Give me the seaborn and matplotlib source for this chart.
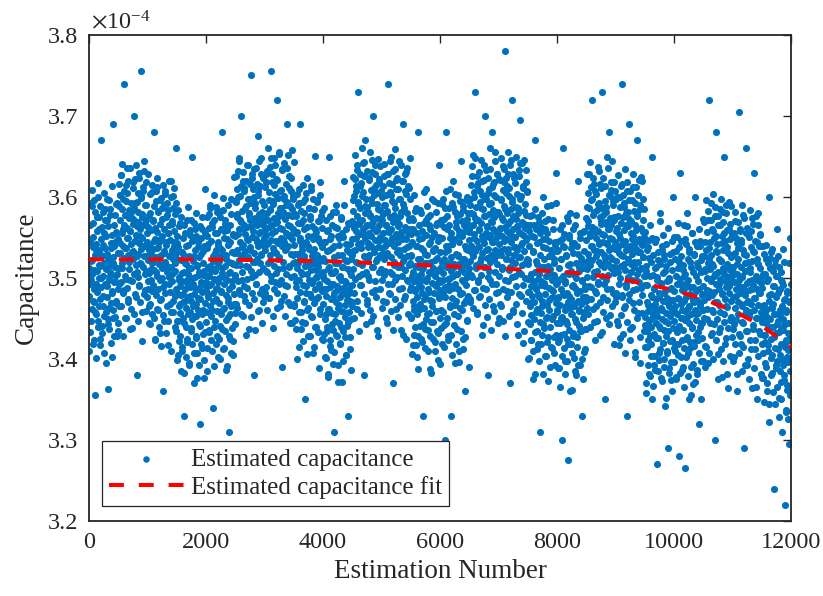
import numpy as np
import pandas as pd
import matplotlib
matplotlib.use("Agg")
import matplotlib.pyplot as plt
import seaborn as sns

# Estimated capacitance, per 1000 estimations,
# in units of 1e-7 F above 3.0e-4 F (e.g. 523 -> 3.523e-4)
cap_0k = [512, 478, 545, 433, 566, 497, 521, 589, 462, 505, 538, 419, 551, 487, 596, 470, 528, 355, 493, 542, 456, 575, 509, 483, 617, 447, 534, 500, 561, 425, 515, 474, 548, 670, 489, 527, 441, 582, 503, 466, 556, 519, 408, 537, 492, 571, 458, 511, 598, 476, 530, 449, 363, 564, 498, 522, 437, 585, 507, 469, 543, 516, 402, 553, 484, 526, 690, 461, 539, 495, 578, 452, 513, 471, 557, 504, 429, 592, 486, 531,
          548, 512, 589, 466, 603, 531, 572, 627, 495, 556, 518, 641, 540, 482, 597, 525, 565, 740, 503, 578, 451, 615, 537, 562, 488, 605, 529, 549, 470, 584, 511, 636, 558, 497, 542, 593, 523, 574, 438, 611, 533, 567, 505, 700, 586, 546, 480, 622, 516, 553, 594, 527, 380, 569, 501, 581, 543, 630, 491, 560, 519, 601, 755, 536, 575, 458, 550, 608, 514, 565, 527, 644, 485, 590, 539, 571, 509, 619, 545, 476]
cap_1k = [522, 487, 563, 445, 578, 506, 541, 604, 468, 530, 497, 615, 519, 455, 572, 536, 491, 589, 510, 680, 548, 423, 595, 526, 479, 557, 503, 612, 538, 461, 581, 517, 545, 432, 567, 498, 529, 599, 474, 552, 512, 586, 489, 360, 561, 533, 447, 608, 520, 493, 575, 541, 466, 592, 508, 555, 417, 584, 527, 501, 566, 483, 547, 620, 514, 458, 570, 535, 496, 601, 523, 471, 558, 544, 439, 579, 509, 660, 531, 486,
          482, 447, 523, 405, 538, 466, 501, 564, 428, 490, 457, 575, 479, 415, 532, 496, 451, 549, 470, 330, 508, 383, 555, 486, 439, 517, 463, 572, 498, 421, 541, 477, 505, 392, 527, 458, 489, 559, 434, 512, 472, 546, 449, 650, 521, 493, 407, 568, 480, 453, 535, 501, 426, 552, 468, 515, 377, 544, 487, 461, 526, 443, 507, 320, 474, 418, 530, 495, 456, 561, 483, 431, 518, 504, 399, 539, 469, 610, 491, 446]
cap_2k = [495, 458, 537, 414, 552, 477, 514, 579, 436, 503, 466, 590, 491, 423, 546, 509, 461, 563, 482, 340, 521, 391, 571, 499, 447, 531, 474, 588, 512, 429, 556, 488, 518, 402, 541, 469, 500, 575, 441, 527, 484, 561, 455, 680, 535, 506, 412, 584, 493, 463, 549, 515, 434, 567, 479, 528, 386, 559, 498, 470, 541, 452, 520, 310, 487, 425, 545, 508, 466, 597, 496, 438, 532, 517, 405, 554, 480, 625, 503, 457,
          552, 516, 594, 468, 610, 535, 575, 632, 496, 560, 522, 645, 545, 480, 601, 528, 569, 700, 507, 583, 453, 620, 541, 566, 490, 611, 533, 554, 472, 589, 515, 640, 563, 499, 547, 598, 526, 580, 437, 616, 538, 572, 509, 750, 592, 551, 482, 628, 520, 558, 600, 531, 380, 574, 504, 586, 548, 636, 493, 565, 523, 607, 675, 540, 579, 460, 555, 613, 518, 570, 530, 648, 487, 595, 544, 577, 512, 624, 549, 478]
cap_3k = [571, 534, 612, 489, 553, 628, 507, 580, 542, 661, 519, 596, 475, 563, 637, 528, 585, 755, 547, 502, 619, 566, 453, 591, 537, 648, 515, 574, 495, 604, 558, 531, 622, 482, 569, 720, 543, 599, 511, 653, 576, 526, 587, 465, 609, 550, 498, 633, 561, 390, 582, 520, 601, 545, 642, 491, 573, 535, 616, 556, 505, 594, 690, 539, 578, 470, 626, 552, 513, 589, 564, 445, 607, 530, 658, 548, 585, 518, 597, 561,
          503, 541, 466, 579, 520, 437, 556, 489, 604, 512, 475, 568, 530, 415, 592, 497, 549, 690, 524, 458, 583, 508, 539, 446, 571, 491, 615, 527, 470, 560, 515, 350, 598, 482, 544, 505, 623, 461, 552, 519, 428, 587, 498, 536, 480, 576, 510, 453, 609, 533, 494, 564, 407, 548, 522, 585, 469, 517, 651, 487, 557, 501, 440, 594, 529, 476, 570, 513, 389, 546, 493, 602, 521, 462, 577, 506, 538, 484, 562, 525]
cap_4k = [468, 503, 431, 545, 487, 402, 521, 455, 572, 478, 440, 533, 496, 382, 559, 462, 514, 650, 489, 423, 548, 474, 506, 411, 537, 457, 582, 492, 436, 526, 481, 310, 563, 447, 509, 470, 590, 428, 518, 485, 393, 552, 463, 501, 445, 541, 476, 418, 575, 498, 459, 529, 372, 513, 488, 551, 434, 482, 620, 452, 522, 467, 405, 560, 494, 441, 535, 479, 330, 511, 458, 567, 486, 427, 542, 471, 504, 449, 528, 491,
          548, 583, 511, 625, 567, 482, 601, 535, 652, 558, 520, 613, 576, 462, 639, 542, 594, 730, 569, 503, 628, 554, 586, 491, 617, 537, 660, 572, 516, 606, 561, 380, 643, 527, 589, 550, 670, 508, 598, 565, 473, 632, 543, 581, 525, 621, 556, 498, 655, 578, 539, 609, 447, 593, 568, 631, 514, 562, 700, 532, 602, 547, 485, 640, 574, 521, 615, 559, 436, 591, 538, 647, 566, 507, 622, 551, 584, 529, 608, 571]
cap_5k = [537, 572, 498, 614, 556, 471, 590, 524, 641, 547, 509, 602, 565, 451, 628, 531, 583, 740, 558, 492, 617, 543, 575, 480, 606, 526, 649, 561, 505, 595, 550, 370, 632, 516, 578, 539, 659, 497, 587, 554, 462, 621, 532, 570, 514, 610, 545, 487, 644, 567, 528, 598, 436, 582, 557, 620, 503, 551, 690, 521, 591, 536, 474, 629, 563, 510, 604, 548, 425, 580, 527, 636, 555, 496, 611, 540, 573, 518, 597, 560,
          489, 452, 528, 406, 545, 471, 507, 571, 430, 496, 460, 583, 484, 417, 539, 502, 455, 556, 476, 680, 514, 388, 565, 492, 441, 523, 468, 580, 505, 425, 549, 482, 511, 330, 534, 463, 497, 568, 437, 519, 478, 553, 449, 610, 528, 500, 410, 575, 486, 457, 542, 508, 428, 560, 473, 520, 383, 551, 494, 466, 533, 446, 512, 595, 481, 421, 537, 503, 459, 566, 490, 434, 525, 510, 399, 546, 475, 640, 498, 450]
cap_6k = [495, 532, 460, 571, 513, 418, 550, 481, 598, 506, 442, 563, 524, 300, 587, 489, 540, 680, 517, 451, 576, 499, 535, 429, 566, 485, 610, 520, 467, 555, 509, 330, 592, 475, 542, 502, 620, 456, 548, 514, 395, 581, 493, 530, 471, 569, 505, 437, 602, 527, 487, 558, 410, 545, 519, 579, 463, 511, 645, 482, 552, 497, 425, 589, 523, 469, 565, 508, 360, 539, 491, 596, 516, 447, 573, 501, 534, 478, 561, 512,
          557, 521, 598, 474, 615, 540, 580, 638, 501, 566, 527, 652, 550, 485, 606, 533, 574, 730, 512, 588, 458, 626, 546, 571, 495, 617, 538, 559, 477, 594, 520, 646, 568, 504, 552, 603, 531, 585, 442, 621, 543, 577, 514, 700, 597, 556, 487, 633, 525, 563, 605, 536, 380, 579, 509, 591, 553, 661, 498, 570, 528, 612, 680, 545, 584, 465, 560, 619, 523, 575, 535, 655, 492, 600, 549, 582, 517, 629, 554, 483]
cap_7k = [542, 579, 503, 621, 561, 468, 597, 529, 648, 552, 514, 609, 571, 447, 635, 536, 589, 780, 563, 497, 624, 548, 580, 484, 613, 531, 656, 567, 510, 601, 555, 370, 640, 522, 585, 545, 720, 501, 594, 560, 458, 628, 538, 576, 519, 617, 551, 490, 650, 573, 534, 604, 430, 587, 564, 633, 508, 557, 695, 526, 598, 541, 478, 642, 569, 516, 611, 553, 420, 583, 533, 646, 562, 500, 619, 547, 578, 524, 606, 566,
          483, 446, 522, 401, 540, 465, 501, 566, 423, 490, 454, 578, 478, 410, 533, 496, 449, 551, 470, 670, 508, 381, 560, 487, 435, 517, 462, 575, 499, 418, 544, 476, 505, 310, 528, 457, 491, 563, 430, 513, 472, 548, 443, 600, 523, 494, 404, 570, 480, 451, 537, 502, 421, 555, 467, 515, 373, 546, 488, 460, 527, 439, 506, 590, 475, 414, 531, 497, 453, 561, 484, 427, 519, 504, 392, 541, 469, 630, 493, 444]
cap_8k = [458, 494, 421, 534, 477, 389, 512, 444, 561, 467, 430, 523, 486, 300, 548, 452, 503, 660, 479, 413, 538, 461, 496, 398, 527, 447, 575, 482, 425, 516, 470, 275, 553, 436, 505, 463, 580, 418, 509, 474, 362, 543, 455, 491, 432, 531, 466, 401, 566, 488, 449, 519, 380, 500, 481, 540, 427, 472, 620, 441, 513, 459, 392, 550, 484, 434, 525, 468, 330, 498, 451, 557, 476, 409, 533, 456, 490, 437, 520, 471,
          547, 511, 588, 463, 605, 530, 570, 628, 490, 556, 516, 643, 540, 474, 596, 522, 563, 720, 501, 578, 446, 616, 535, 560, 484, 607, 527, 549, 466, 584, 509, 637, 558, 493, 542, 593, 520, 575, 430, 611, 532, 567, 503, 730, 587, 545, 476, 623, 514, 553, 595, 525, 350, 569, 498, 581, 543, 650, 487, 560, 517, 602, 680, 534, 574, 454, 550, 609, 512, 565, 524, 645, 481, 590, 538, 572, 506, 619, 544, 470]
cap_9k = [521, 558, 482, 600, 540, 447, 576, 508, 627, 531, 493, 588, 550, 426, 614, 515, 568, 740, 542, 476, 603, 527, 559, 463, 592, 510, 635, 546, 489, 580, 534, 330, 619, 501, 564, 524, 690, 480, 573, 539, 437, 607, 517, 555, 498, 596, 530, 469, 629, 552, 513, 583, 409, 566, 543, 612, 487, 536, 670, 505, 577, 520, 457, 621, 548, 495, 590, 532, 395, 562, 512, 625, 541, 479, 598, 526, 557, 503, 585, 545,
          452, 415, 491, 370, 509, 434, 470, 535, 392, 459, 423, 547, 447, 379, 502, 465, 418, 520, 439, 650, 477, 350, 529, 456, 404, 486, 431, 544, 468, 387, 513, 445, 474, 270, 497, 426, 460, 532, 399, 482, 441, 517, 412, 580, 492, 463, 373, 539, 449, 420, 506, 471, 390, 524, 436, 484, 342, 515, 457, 429, 496, 408, 475, 290, 444, 383, 500, 466, 422, 530, 453, 396, 488, 473, 361, 510, 438, 600, 462, 413]
cap_10k = [447, 484, 410, 524, 466, 378, 502, 433, 551, 456, 419, 512, 475, 280, 538, 441, 492, 630, 468, 402, 527, 450, 485, 387, 516, 436, 565, 471, 414, 505, 459, 265, 542, 425, 494, 452, 580, 407, 498, 463, 351, 532, 444, 480, 421, 520, 455, 390, 556, 477, 438, 508, 369, 489, 470, 529, 416, 461, 600, 430, 503, 448, 381, 540, 473, 423, 514, 457, 320, 487, 440, 546, 465, 398, 522, 445, 479, 426, 509, 460,
           490, 527, 451, 569, 509, 416, 545, 477, 596, 500, 462, 557, 519, 395, 583, 484, 537, 720, 511, 445, 572, 496, 528, 432, 561, 479, 604, 515, 458, 549, 503, 300, 588, 470, 533, 493, 680, 449, 542, 508, 406, 576, 486, 524, 467, 565, 499, 438, 598, 521, 482, 552, 378, 535, 512, 581, 456, 505, 650, 474, 546, 489, 426, 590, 517, 464, 559, 501, 364, 531, 481, 594, 510, 448, 567, 495, 526, 472, 554, 514]
cap_11k = [476, 513, 437, 555, 495, 402, 531, 463, 582, 486, 448, 543, 505, 381, 569, 470, 523, 705, 497, 431, 558, 482, 514, 418, 547, 465, 590, 501, 444, 535, 489, 290, 574, 456, 519, 479, 660, 435, 528, 494, 392, 562, 472, 510, 453, 551, 485, 424, 584, 507, 468, 538, 364, 521, 498, 567, 442, 491, 630, 460, 532, 475, 412, 576, 503, 450, 545, 487, 350, 517, 467, 580, 496, 434, 553, 481, 512, 458, 540, 500,
           452, 418, 488, 376, 505, 430, 467, 530, 395, 458, 421, 541, 444, 360, 496, 462, 410, 518, 437, 600, 472, 345, 525, 449, 401, 480, 425, 536, 463, 383, 509, 440, 468, 240, 490, 414, 455, 522, 389, 476, 432, 503, 398, 560, 482, 447, 352, 514, 433, 405, 487, 454, 372, 498, 419, 466, 310, 491, 436, 392, 473, 380, 442, 220, 415, 335, 460, 423, 368, 484, 402, 326, 445, 411, 295, 470, 385, 550, 427, 360]

# Second set of readings in the dense core (same units), between the ones above
fill_0k = [410, 547, 493, 593, 447, 522, 609, 472, 568, 424, 510, 581, 458, 534, 401, 558, 485, 600, 439, 516, 575, 466, 589, 417, 529, 500, 563, 432, 541, 478, 605, 453, 513, 585, 395, 552, 490, 572, 443, 525, 596, 463, 503, 578, 420, 537, 481, 613, 450, 519, 565, 428, 544, 496, 591, 469, 505, 555, 435, 531,
           444, 616, 493, 602, 543, 466, 627, 512, 585, 428, 561, 485, 608, 537, 451, 595, 499, 636, 549, 474, 620, 520, 574, 437, 558, 462, 582, 532, 496, 618, 523, 571, 455, 592, 546, 477, 640, 508, 564, 447, 605, 530, 490, 623, 552, 470, 599, 517, 579, 422, 612, 540, 480, 632, 505, 568, 459, 590, 527, 556]
fill_1k = [496, 628, 465, 534, 580, 443, 559, 511, 606, 484, 520, 570, 450, 546, 425, 562, 508, 608, 462, 537, 624, 487, 583, 439, 525, 596, 473, 549, 416, 573, 500, 615, 454, 531, 590, 481, 604, 432, 544, 515, 578, 447, 556, 493, 620, 468, 528, 600, 410, 567, 505, 587, 458, 540, 611, 478, 518, 593, 435, 552,
           399, 543, 447, 584, 497, 422, 568, 468, 522, 385, 506, 410, 530, 480, 444, 566, 471, 519, 403, 540, 494, 425, 588, 456, 512, 395, 553, 478, 438, 571, 500, 418, 547, 465, 527, 370, 560, 488, 428, 580, 453, 516, 407, 538, 475, 504, 392, 564, 441, 550, 491, 414, 575, 460, 533, 376, 509, 433, 556, 485]
fill_2k = [503, 575, 385, 542, 480, 562, 433, 515, 586, 453, 493, 568, 410, 527, 471, 603, 440, 509, 555, 418, 534, 486, 581, 459, 495, 545, 425, 521, 400, 537, 483, 583, 437, 512, 599, 462, 558, 414, 500, 571, 448, 524, 391, 548, 475, 590, 429, 506, 565, 456, 579, 407, 519, 490, 553, 422, 531, 468, 595, 443,
           504, 626, 531, 579, 463, 600, 554, 485, 648, 516, 572, 455, 613, 538, 498, 631, 560, 478, 607, 525, 587, 430, 620, 548, 488, 640, 513, 576, 467, 598, 535, 564, 452, 624, 501, 610, 551, 474, 635, 520, 593, 436, 569, 493, 616, 545, 459, 603, 507, 644, 557, 482, 628, 528, 582, 445, 566, 470, 590, 540]
fill_3k = [482, 559, 618, 509, 632, 460, 572, 543, 606, 475, 584, 521, 648, 496, 556, 628, 438, 595, 533, 615, 486, 568, 639, 506, 546, 621, 463, 580, 524, 656, 493, 562, 608, 471, 587, 539, 634, 512, 548, 598, 478, 574, 453, 590, 536, 636, 490, 565, 652, 515, 611, 467, 553, 624, 501, 577, 444, 601, 528, 643,
           468, 601, 530, 448, 577, 495, 557, 400, 590, 518, 458, 610, 483, 546, 437, 568, 505, 534, 422, 594, 471, 580, 521, 444, 605, 490, 563, 406, 539, 463, 586, 515, 429, 573, 477, 614, 527, 452, 598, 498, 552, 415, 536, 440, 560, 510, 474, 596, 501, 549, 433, 570, 524, 455, 618, 486, 542, 425, 583, 508]
fill_4k = [424, 499, 586, 449, 545, 401, 487, 558, 435, 511, 378, 535, 462, 577, 416, 493, 552, 443, 566, 394, 506, 477, 540, 409, 518, 455, 582, 430, 490, 562, 372, 529, 467, 549, 420, 502, 573, 440, 480, 555, 397, 514, 458, 590, 427, 496, 542, 405, 521, 473, 568, 446, 482, 532, 412, 508, 387, 524, 470, 570,
           465, 596, 533, 562, 450, 622, 499, 608, 549, 472, 633, 518, 591, 434, 567, 491, 614, 543, 457, 601, 505, 642, 555, 480, 626, 526, 580, 443, 564, 468, 588, 538, 502, 624, 529, 577, 461, 598, 552, 483, 646, 514, 570, 453, 611, 536, 496, 629, 558, 476, 605, 523, 585, 428, 618, 546, 486, 638, 511, 574]
fill_5k = [600, 463, 579, 531, 626, 504, 540, 590, 470, 566, 445, 582, 528, 628, 482, 557, 644, 507, 603, 459, 545, 616, 493, 569, 436, 593, 520, 635, 474, 551, 610, 501, 624, 452, 564, 535, 598, 467, 576, 513, 640, 488, 548, 620, 430, 587, 525, 607, 478, 560, 631, 498, 538, 613, 455, 572, 516, 648, 485, 554,
           527, 451, 574, 503, 417, 561, 465, 602, 515, 440, 586, 486, 540, 403, 524, 428, 548, 498, 462, 584, 489, 537, 421, 558, 512, 443, 606, 474, 530, 413, 571, 496, 456, 589, 518, 436, 565, 483, 545, 388, 578, 506, 446, 598, 471, 534, 425, 556, 493, 522, 410, 582, 459, 568, 509, 432, 593, 478, 551, 394]
fill_6k = [485, 567, 438, 520, 591, 458, 498, 573, 415, 532, 476, 608, 445, 514, 560, 423, 539, 491, 586, 464, 500, 550, 430, 526, 405, 542, 488, 588, 442, 517, 604, 467, 563, 419, 505, 576, 453, 529, 396, 553, 480, 595, 434, 511, 570, 461, 584, 412, 524, 495, 558, 427, 536, 473, 600, 448, 508, 580, 390, 547,
           566, 470, 590, 540, 504, 626, 531, 579, 463, 600, 554, 485, 648, 516, 572, 455, 613, 538, 498, 631, 560, 478, 607, 525, 587, 430, 620, 548, 488, 640, 513, 576, 467, 598, 535, 564, 452, 624, 501, 610, 551, 474, 635, 520, 593, 436, 569, 493, 616, 545, 459, 603, 507, 644, 557, 482, 628, 528, 582, 445]
fill_7k = [622, 450, 562, 533, 596, 465, 574, 511, 638, 486, 546, 618, 428, 585, 523, 605, 476, 558, 629, 496, 536, 611, 453, 570, 514, 646, 483, 552, 598, 461, 577, 529, 624, 502, 538, 588, 468, 564, 443, 580, 526, 626, 480, 555, 642, 505, 601, 457, 543, 614, 491, 567, 434, 591, 518, 633, 472, 549, 608, 499,
           517, 400, 558, 483, 443, 576, 505, 423, 552, 470, 532, 375, 565, 493, 433, 585, 458, 521, 412, 543, 480, 509, 397, 569, 446, 555, 496, 419, 580, 465, 538, 381, 514, 438, 561, 490, 404, 548, 452, 589, 502, 427, 573, 473, 527, 390, 511, 415, 535, 485, 449, 571, 476, 524, 408, 545, 499, 430, 593, 461]
fill_8k = [533, 389, 475, 546, 423, 499, 366, 523, 450, 565, 404, 481, 540, 431, 554, 382, 494, 465, 528, 397, 506, 443, 570, 418, 478, 550, 360, 517, 455, 537, 408, 490, 561, 428, 468, 543, 385, 502, 446, 578, 415, 484, 530, 393, 509, 461, 556, 434, 470, 520, 400, 496, 375, 512, 458, 558, 412, 487, 574, 437,
           476, 628, 501, 564, 455, 586, 523, 552, 440, 612, 489, 598, 539, 462, 623, 508, 581, 424, 557, 481, 604, 533, 447, 591, 495, 632, 545, 470, 616, 516, 570, 433, 554, 458, 578, 528, 492, 614, 519, 567, 451, 588, 542, 473, 636, 504, 560, 443, 601, 526, 486, 619, 548, 466, 595, 513, 575, 418, 608, 536]
fill_9k = [598, 476, 512, 562, 442, 538, 417, 554, 500, 600, 454, 529, 616, 479, 575, 431, 517, 588, 465, 541, 408, 565, 492, 607, 446, 523, 582, 473, 596, 424, 536, 507, 570, 439, 548, 485, 612, 460, 520, 592, 402, 559, 497, 579, 450, 532, 603, 470, 510, 585, 427, 544, 488, 620, 457, 526, 572, 435, 551, 503,
           557, 442, 515, 358, 491, 415, 538, 467, 381, 525, 429, 566, 479, 404, 550, 450, 504, 367, 488, 392, 512, 462, 426, 548, 453, 501, 385, 522, 476, 407, 570, 438, 494, 377, 535, 460, 420, 553, 482, 400, 529, 447, 509, 352, 542, 470, 410, 562, 435, 498, 389, 520, 457, 486, 374, 546, 423, 532, 473, 396]
fill_10k = [551, 418, 458, 533, 375, 492, 436, 568, 405, 474, 520, 383, 499, 451, 546, 424, 460, 510, 390, 486, 365, 502, 448, 548, 402, 477, 564, 427, 523, 379, 465, 536, 413, 489, 356, 513, 440, 555, 394, 471, 530, 421, 544, 372, 484, 455, 518, 387, 496, 433, 560, 408, 468, 540, 350, 507, 445, 527, 398, 480,
            573, 473, 527, 390, 511, 415, 535, 485, 449, 571, 476, 524, 408, 545, 499, 430, 593, 461, 517, 400, 558, 483, 443, 576, 505, 423, 552, 470, 532, 375, 565, 493, 433, 585, 458, 521, 412, 543, 480, 509, 397, 569, 446, 555, 496, 419, 580, 465, 538, 381, 514, 438, 561, 490, 404, 548, 452, 589, 502, 427]
fill_11k = [528, 397, 506, 443, 570, 418, 478, 550, 360, 517, 455, 537, 408, 490, 561, 428, 468, 543, 385, 502, 446, 578, 415, 484, 530, 393, 509, 461, 556, 434, 470, 520, 400, 496, 375, 512, 458, 558, 412, 487, 574, 437, 533, 389, 475, 546, 423, 499, 366, 523, 450, 565, 404, 481, 540, 431, 554, 382, 494, 465,
            446, 377, 540, 408, 464, 347, 505, 430, 390, 523, 452, 370, 499, 417, 479, 322, 512, 440, 380, 532, 405, 468, 359, 490, 427, 456, 344, 516, 393, 502, 443, 366, 527, 412, 485, 328, 461, 385, 508, 437, 351, 495, 399, 536, 449, 374, 520, 420, 474, 337, 458, 362, 482, 432, 396, 518, 423, 471, 355, 492]

segments = [cap_0k, cap_1k, cap_2k, cap_3k, cap_4k, cap_5k,
            cap_6k, cap_7k, cap_8k, cap_9k, cap_10k, cap_11k]
fill_segments = [fill_0k, fill_1k, fill_2k, fill_3k, fill_4k, fill_5k,
                 fill_6k, fill_7k, fill_8k, fill_9k, fill_10k, fill_11k]
segment_start = [0, 1000, 2000, 3000, 4000, 5000, 6000, 7000, 8000, 9000, 10000, 11000]

# Fitted curve (x1e-4 F)
fit_x = [0, 1000, 2000, 3000, 4000, 5000, 6000, 7000, 8000, 8500, 9000, 9500, 10000, 10500, 11000, 11500, 12000]
fit_y = [3.523, 3.523, 3.523, 3.522, 3.521, 3.518, 3.515, 3.512, 3.508, 3.505, 3.500, 3.493, 3.485, 3.474, 3.460, 3.441, 3.415]

x_ticks = [0, 2000, 4000, 6000, 8000, 10000, 12000]
y_ticks = [3.2, 3.3, 3.4, 3.5, 3.6, 3.7, 3.8]
x_label = "Estimation Number"
y_label = "Capacitance"
legend_labels = ["Estimated capacitance", "Estimated capacitance fit"]

est_a = np.concatenate([s + np.arange(len(v)) * 1000.0 / len(v) for s, v in zip(segment_start, segments)])
est_b = np.concatenate([s + (np.arange(len(v)) + 0.5) * 1000.0 / len(v) for s, v in zip(segment_start, fill_segments)])
val_a = np.concatenate([np.asarray(v, float) for v in segments])
val_b = np.concatenate([np.asarray(v, float) for v in fill_segments])
df = pd.DataFrame({"est": np.concatenate([est_a, est_b]),
                   "cap": 3.0 + np.concatenate([val_a, val_b]) / 1000.0})
fit_df = pd.DataFrame({"est": fit_x, "cap": fit_y})

sns.set_style("white")
plt.rcParams["font.family"] = ["Liberation Serif", "DejaVu Serif"]
plt.rcParams["mathtext.fontset"] = "stix"

TXT = "#262626"
fig = plt.figure(figsize=(8.23, 5.96), dpi=100)
ax = fig.add_axes([89 / 823, 75 / 596, 702 / 823, 486 / 596])

sns.scatterplot(data=df, x="est", y="cap", ax=ax, color="#0072BD", s=26,
                linewidth=0, label=legend_labels[0], legend=False, zorder=2)
sns.lineplot(data=fit_df, x="est", y="cap", ax=ax, color="#FF0000",
             linewidth=2.9, label=legend_labels[1], legend=False, zorder=3)
fit_line = ax.lines[-1]
fit_line.set_dashes([3.7, 3.7])
fit_line.set_dash_capstyle("butt")

ax.set_xlim(0, 12000)
ax.set_ylim(3.2, 3.8)
ax.set_xticks(x_ticks)
ax.set_yticks(y_ticks)
ax.set_xticklabels([str(t) for t in x_ticks])
ax.set_yticklabels([f"{t:.1f}" for t in y_ticks])
ax.tick_params(direction="in", top=True, right=True, length=6, width=1.0,
               labelsize=17.5, pad=8, color=TXT, labelcolor=TXT)
for sp in ax.spines.values():
    sp.set_color(TXT)
    sp.set_linewidth(1.3)
ax.grid(False)

ax.set_xlabel(x_label, fontsize=19.5, color=TXT, labelpad=4)
ax.set_ylabel(y_label, fontsize=19.5, color=TXT, labelpad=6)
ax.text(0.003, 1.012, r"$\times\mathregular{10^{-4}}$", transform=ax.transAxes,
        ha="left", va="baseline", fontsize=17.5, color=TXT)

leg = ax.legend(loc="lower left", bbox_to_anchor=(0.018, 0.031), borderaxespad=0,
                fontsize=18, frameon=True, fancybox=False, framealpha=1,
                edgecolor=TXT, handlelength=3.0, handletextpad=0.3,
                labelspacing=0.2, borderpad=0.28, markerscale=1.0,
                scatterpoints=1)
leg.get_frame().set_linewidth(0.9)
leg.set_zorder(5)
for h in leg.legend_handles:
    if hasattr(h, "set_sizes"):
        h.set_sizes([22])

fig.savefig("out.png", dpi=100, facecolor="white")
